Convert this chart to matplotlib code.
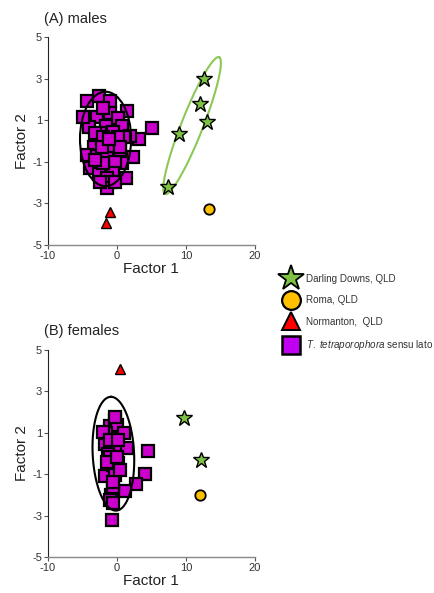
import numpy as np
import matplotlib.pyplot as plt
from matplotlib.lines import Line2D
from matplotlib.patches import Ellipse

plt.rcParams['font.family'] = ['Liberation Sans', 'DejaVu Sans']
plt.rcParams['mathtext.fontset'] = 'custom'
plt.rcParams['mathtext.it'] = 'Liberation Sans:italic'
plt.rcParams['mathtext.rm'] = 'Liberation Sans'
plt.rcParams['axes.unicode_minus'] = False

# ---------------------------------
# DATA
# ---------------------------------

# (A) males
m_sq_x = [-2.57, -4.26, -0.98, -4.11, -2.91, -0.98, 1.53, 0.23, -3.97, -1.56, 0.80,
          -2.43, -0.50, 5.05, 3.27, 1.92, 1.05, -3.29, -0.74, -4.26, -2.91, -1.46,
          2.40, 0.76, -3.87, -0.26, -2.57, -0.50, 1.29, -1.46, -0.98, -1.46, -4.94,
          -3.15, -1.94, 0.23, -2.19, 0.47, -1.94, -3.15, -2.43, -0.26, 0.47, -2.0, -1.2]
m_sq_y = [2.18, 1.94, 1.94, 1.14, 1.14, 1.36, 1.44, 1.09, 0.69, 0.74, 0.72,
          0.40, 0.45, 0.64, 0.08, 0.24, 0.18, -0.27, -0.27, -0.67, -0.71, -0.83,
          -0.75, -1.07, -1.31, -0.99, -1.60, -1.55, -1.78, -1.79, -1.96, -2.28, 1.14,
          0.37, 0.21, 0.21, -0.27, -0.43, -1.07, -0.91, -1.96, -1.96, -0.27, 1.6, 0.1]
m_star_x = [12.6, 12.1, 13.06, 9.0, 7.46]
m_star_y = [2.96, 1.76, 0.91, 0.34, -2.23]
m_circ_x = [13.3]
m_circ_y = [-3.29]
m_tri_x = [-1.03, -1.56]
m_tri_y = [-3.43, -3.93]

# (B) females
f_sq_x = [-0.74, 4.47, 4.13, 2.74, 1.19, -0.79, -0.98, -0.60, -1.70, -0.60, 0.23,
          -0.26, -0.01, -1.70, -0.98, -0.26, -0.01, 1.05, 1.43, -1.56, -1.94, -1.22,
          -0.98, -1.46, -0.50, 0.47, -0.98, 0.23, 0.00, -0.50, -0.26]
f_sq_y = [-3.21, 0.12, -1.01, -1.49, -1.80, -2.00, -2.25, -1.60, -1.09, -0.56, -0.47,
          -1.04, 0.41, 0.46, 1.33, 1.62, 1.38, 0.97, 0.25, 0.97, 1.05, 0.00,
          -0.15, -0.40, -1.36, -0.80, 0.65, 0.65, -0.15, -2.40, 1.78]
f_star_x = [9.73, 12.19]
f_star_y = [1.70, -0.31]
f_circ_x = [12.05]
f_circ_y = [-2.00]
f_tri_x = [0.47]
f_tri_y = [4.07]

# ellipses: centre, half-axis vectors in data units
m_green_c = (10.89, 0.74)
m_green_u = (3.91, 3.29)
m_green_v = (1.45, -0.2)
m_black = dict(xy=(-1.63, 0.10), width=7.4, height=4.54)
f_black_c = (-0.5, -0.01)
f_black_u = (-0.35, 2.75)
f_black_v = (3.0, 0.0)

labels = ["Darling Downs, QLD", "Roma, QLD", "Normanton,  QLD",
          r"$\mathit{T.}$ $\mathit{tetraporophora}$ sensu lato"]

MAG = "#CC00CC"
GRN = "#7DC242"
ORG = "#FFC000"
RED = "#FF0000"


def para_ellipse(ax, c, u, v, **kw):
    t = np.linspace(0, 2 * np.pi, 200)
    ex = c[0] + np.cos(t) * u[0] + np.sin(t) * v[0]
    ey = c[1] + np.cos(t) * u[1] + np.sin(t) * v[1]
    ax.plot(ex, ey, **kw)


def style(ax):
    ax.set_xlim(-10, 20)
    ax.set_ylim(-5, 5)
    ax.set_xticks([-10, 0, 10, 20])
    ax.set_yticks([-5, -3, -1, 1, 3, 5])
    for s in ["top", "right"]:
        ax.spines[s].set_visible(False)
    ax.spines["left"].set_color("#222222")
    ax.spines["bottom"].set_color("#888888")
    ax.spines["bottom"].set_linewidth(1.0)
    ax.tick_params(labelsize=8, length=3, width=0.8, color="#555555",
                   labelcolor="#333333", pad=1)
    ax.set_xlabel("Factor 1", fontsize=11, labelpad=1, color="#222222")
    ax.set_ylabel("Factor 2", fontsize=11, labelpad=2, color="#222222")


def points(ax, sq_x, sq_y, st_x, st_y, ci_x, ci_y, tr_x, tr_y, sq_ms):
    ax.plot(sq_x, sq_y, "s", ms=sq_ms, mfc=MAG, mec="black", mew=1.6, ls="none", zorder=3)
    ax.plot(st_x, st_y, "*", ms=12, mfc=GRN, mec="black", mew=1.0, ls="none", zorder=4)
    ax.plot(ci_x, ci_y, "o", ms=7.5, mfc=ORG, mec="black", mew=1.3, ls="none", zorder=4)
    ax.plot(tr_x, tr_y, "^", ms=7.5, mfc=RED, mec="black", mew=1.0, ls="none", zorder=4)


fig = plt.figure(figsize=(4.35, 5.93), dpi=100)
axA = fig.add_axes([0.1097, 0.5868, 0.4766, 0.3508])
axB = fig.add_axes([0.1097, 0.0607, 0.4766, 0.3490])

points(axA, m_sq_x, m_sq_y, m_star_x, m_star_y, m_circ_x, m_circ_y, m_tri_x, m_tri_y, 8.3)
axA.add_patch(Ellipse(fill=False, ec="black", lw=1.5, zorder=5, **m_black))
para_ellipse(axA, m_green_c, m_green_u, m_green_v, color="#8DC857", lw=1.5, zorder=2)
style(axA)

points(axB, f_sq_x, f_sq_y, f_star_x, f_star_y, f_circ_x, f_circ_y, f_tri_x, f_tri_y, 9)
para_ellipse(axB, f_black_c, f_black_u, f_black_v, color="black", lw=1.5, zorder=5)
style(axB)

fig.text(0.101, 0.968, "(A) males", fontsize=10.5, va="center", color="#222222")
fig.text(0.101, 0.441, "(B) females", fontsize=10.5, va="center", color="#222222")

handles = [
    Line2D([], [], marker="*", ms=19, mfc=GRN, mec="black", mew=1.3, ls="none"),
    Line2D([], [], marker="o", ms=13.5, mfc=ORG, mec="black", mew=1.6, ls="none"),
    Line2D([], [], marker="^", ms=13, mfc=RED, mec="black", mew=1.4, ls="none"),
    Line2D([], [], marker="s", ms=12.5, mfc="#C000F0", mec="black", mew=1.8, ls="none"),
]
fig.legend(handles, labels, loc="upper left", bbox_to_anchor=(0.645, 0.545),
           frameon=False, fontsize=7.1, handlelength=1.3, handletextpad=0.85,
           labelspacing=1.17, borderaxespad=0, labelcolor="#333333")

fig.savefig("out.png", dpi=100)
